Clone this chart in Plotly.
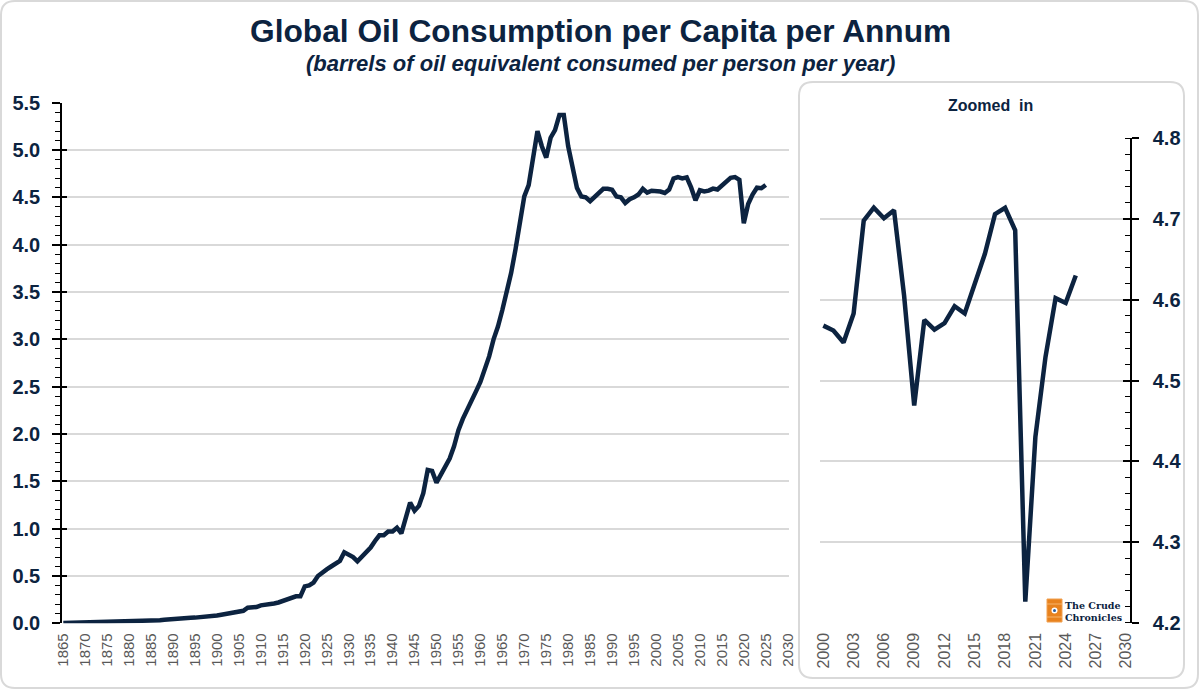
import plotly.graph_objects as go

# ---------------- data ----------------
years = list(range(1865, 2026))
consumption = [
    0.003, 0.004, 0.004, 0.005, 0.006, 0.007, 0.008, 0.009, 0.010, 0.011,   # 1865-1874
    0.012, 0.013, 0.015, 0.017, 0.019, 0.021, 0.022, 0.023, 0.024, 0.025,   # 1875-1884
    0.026, 0.030, 0.033, 0.038, 0.043, 0.047, 0.050, 0.053, 0.056, 0.058,   # 1885-1894
    0.060, 0.063, 0.067, 0.072, 0.077, 0.082, 0.090, 0.098, 0.107, 0.116,   # 1895-1904
    0.125, 0.132, 0.165, 0.170, 0.172, 0.190, 0.195, 0.195, 0.210, 0.220,   # 1905-1914
    0.235, 0.250, 0.270, 0.285, 0.285, 0.390, 0.400, 0.430, 0.500, 0.540,   # 1915-1924
    0.570, 0.600, 0.630, 0.660, 0.750, 0.730, 0.700, 0.655, 0.700, 0.745,   # 1925-1934
    0.800, 0.870, 0.930, 0.930, 0.970, 0.970, 1.010, 0.950, 1.110, 1.275,   # 1935-1944
    1.190, 1.240, 1.375, 1.620, 1.610, 1.486, 1.570, 1.650, 1.740, 1.870,   # 1945-1954
    2.040, 2.160, 2.250, 2.340, 2.450, 2.550, 2.680, 2.820, 3.000, 3.135,   # 1955-1964
    3.310, 3.490, 3.700, 3.950, 4.230, 4.510, 4.630, 4.900, 5.200, 5.040,   # 1965-1974
    4.920, 5.130, 5.210, 5.370, 5.370, 5.040, 4.790, 4.600, 4.510, 4.500,   # 1975-1984
    4.460, 4.500, 4.540, 4.590, 4.590, 4.580, 4.510, 4.500, 4.440, 4.480,   # 1985-1994
    4.500, 4.530, 4.590, 4.550, 4.570,                                      # 1995-1999
    4.568, 4.562, 4.547, 4.583, 4.698, 4.714, 4.701, 4.711, 4.605, 4.469,   # 2000-2009
    4.575, 4.563, 4.571, 4.592, 4.583, 4.622, 4.657, 4.706, 4.714, 4.686,   # 2010-2019
    4.226, 4.430, 4.529, 4.602, 4.596, 4.630,                               # 2020-2025
]
zoom_start_year = 2000
main_xticks = list(range(1865, 2031, 5))
zoom_xticks = list(range(2000, 2031, 3))

title_text = "Global Oil Consumption per Capita per Annum"
subtitle_text = "(barrels of oil equivalent consumed per person per year)"
zoom_title = "Zoomed  in"

# ---------------- style ----------------
W, H = 1200, 690
NAVY = "#0c2340"
GRID = "#d9d9d9"
GRAYTXT = "#595959"
FONT = "Liberation Sans, Arial, sans-serif"

def px_x(p):
    return p / W

def px_y(p):
    return 1 - p / H

zi = years.index(zoom_start_year)
MAIN_YDOM = [px_y(623.3), px_y(102.7)]
ZOOM_YDOM = [px_y(622.7), px_y(138.3)]
MAIN_YRANGE = [0, 5.5]
ZOOM_YRANGE = [4.2, 4.8]

fig = go.Figure()
fig.add_trace(go.Scatter(x=years, y=consumption, mode="lines",
                         line=dict(color=NAVY, width=4.5), xaxis="x", yaxis="y",
                         showlegend=False, hoverinfo="x+y"))
fig.add_trace(go.Scatter(x=years[zi:], y=consumption[zi:], mode="lines",
                         line=dict(color=NAVY, width=4.5), xaxis="x2", yaxis="y2",
                         showlegend=False, hoverinfo="x+y"))
# empty traces so the cross-tick overlay axes are drawn
fig.add_trace(go.Scatter(x=[], y=[], xaxis="x", yaxis="y3", showlegend=False, hoverinfo="skip"))
fig.add_trace(go.Scatter(x=[], y=[], xaxis="x2", yaxis="y4", showlegend=False, hoverinfo="skip"))

def rounded_rect(x0, y0, x1, y1, r):
    X = lambda v: f"{px_x(v):.5f}"
    Y = lambda v: f"{px_y(v):.5f}"
    return (f"M {X(x0 + r)},{Y(y0)} L {X(x1 - r)},{Y(y0)} "
            f"Q {X(x1)},{Y(y0)} {X(x1)},{Y(y0 + r)} "
            f"L {X(x1)},{Y(y1 - r)} Q {X(x1)},{Y(y1)} {X(x1 - r)},{Y(y1)} "
            f"L {X(x0 + r)},{Y(y1)} Q {X(x0)},{Y(y1)} {X(x0)},{Y(y1 - r)} "
            f"L {X(x0)},{Y(y0 + r)} Q {X(x0)},{Y(y0)} {X(x0 + r)},{Y(y0)} Z")

shapes = [
    dict(type="path", xref="paper", yref="paper", path=rounded_rect(1, 1, 1198, 688, 14),
         line=dict(color=GRID, width=2), fillcolor="rgba(0,0,0,0)", layer="below"),
    dict(type="path", xref="paper", yref="paper", path=rounded_rect(799, 82, 1184, 678, 14),
         line=dict(color=GRID, width=2), fillcolor="rgba(0,0,0,0)", layer="below"),
    # logo barrel icon
    dict(type="rect", xref="paper", yref="paper", x0=px_x(1047), x1=px_x(1062),
         y0=px_y(622), y1=px_y(599), fillcolor="#e8821e", line=dict(color="#f0a050", width=1)),
    dict(type="line", xref="paper", yref="paper", x0=px_x(1047), x1=px_x(1062),
         y0=px_y(604), y1=px_y(604), line=dict(color="#f6b36b", width=1)),
    dict(type="line", xref="paper", yref="paper", x0=px_x(1047), x1=px_x(1062),
         y0=px_y(617), y1=px_y(617), line=dict(color="#f6b36b", width=1)),
    dict(type="circle", xref="paper", yref="paper", x0=px_x(1051.5), x1=px_x(1057.5),
         y0=px_y(613.5), y1=px_y(607.5), fillcolor="white", line=dict(width=0)),
    dict(type="circle", xref="paper", yref="paper", x0=px_x(1053), x1=px_x(1056),
         y0=px_y(612), y1=px_y(609), fillcolor="#2a5d9f", line=dict(width=0)),
]

annotations = [
    dict(text=f"<b>{title_text}</b>", x=0.5, y=px_y(31), xref="paper", yref="paper",
         showarrow=False, font=dict(family=FONT, size=31.7, color=NAVY), xanchor="center", yanchor="middle"),
    dict(text=f"<b><i>{subtitle_text}</i></b>", x=0.5, y=px_y(63), xref="paper", yref="paper",
         showarrow=False, font=dict(family=FONT, size=22, color=NAVY), xanchor="center", yanchor="middle"),
    dict(text=f"<b>{zoom_title}</b>", x=px_x(990), y=px_y(105), xref="paper", yref="paper",
         showarrow=False, font=dict(family=FONT, size=16, color=NAVY), xanchor="center", yanchor="middle"),
    dict(text="<b>The Crude<br>Chronicles</b>", x=px_x(1063), y=px_y(611), xref="paper", yref="paper",
         showarrow=False, align="left", xanchor="left", yanchor="middle",
         font=dict(family="DejaVu Serif, serif", size=9.5, color=NAVY)),
]

fig.update_layout(
    template="none",
    width=W, height=H,
    margin=dict(l=0, r=0, t=0, b=0, pad=0, autoexpand=False),
    paper_bgcolor="white", plot_bgcolor="white",
    font=dict(family=FONT, color=NAVY),
    shapes=shapes, annotations=annotations,
    hovermode="closest",
    xaxis=dict(domain=[px_x(62), px_x(789)], range=[1864.7, 2030.3], anchor="y",
               automargin=False,
               tickmode="array", tickvals=main_xticks, tickangle=-90,
               tickfont=dict(family=FONT, size=15, color=GRAYTXT),
               showgrid=False, zeroline=False, showline=False, ticks="", ticklabelstandoff=6),
    yaxis=dict(domain=MAIN_YDOM, range=MAIN_YRANGE, anchor="x",
               automargin=False,
               tickmode="linear", tick0=0, dtick=0.5, tickformat=".1f",
               tickfont=dict(family=FONT, size=20, color=NAVY, weight="bold"),
               showgrid=True, gridcolor=GRID, gridwidth=1.5, zeroline=False,
               showline=True, linecolor="black", linewidth=1.5,
               ticks="outside", ticklen=8, tickcolor="black", tickwidth=1.5,
               ticklabelstandoff=8,
               minor=dict(dtick=0.1, ticks="outside", ticklen=5, tickcolor="black",
                          tickwidth=1.2, showgrid=False)),
    yaxis3=dict(domain=MAIN_YDOM, range=MAIN_YRANGE, anchor="x", overlaying="y",
                automargin=False, tickmode="linear", tick0=0, dtick=0.5,
                showticklabels=False, showgrid=False, zeroline=False, showline=False,
                ticks="inside", ticklen=5, tickcolor="black", tickwidth=1.5),
    xaxis2=dict(domain=[px_x(820), px_x(1130)], range=[1999.67, 2030.37], anchor="y2",
                automargin=False,
                tickmode="array", tickvals=zoom_xticks, tickangle=-90,
                tickfont=dict(family=FONT, size=16, color=GRAYTXT),
                showgrid=False, zeroline=False, showline=False, ticks="", ticklabelstandoff=6),
    yaxis2=dict(domain=ZOOM_YDOM, range=ZOOM_YRANGE, anchor="x2", side="right",
                automargin=False,
                tickmode="linear", tick0=4.2, dtick=0.1, tickformat=".1f",
                tickfont=dict(family=FONT, size=20, color=NAVY, weight="bold"),
                showgrid=True, gridcolor=GRID, gridwidth=1.5, zeroline=False,
                showline=True, linecolor="black", linewidth=1.5,
                ticks="outside", ticklen=7, tickcolor="black", tickwidth=1.5,
                ticklabelstandoff=10,
                minor=dict(dtick=0.02, ticks="inside", ticklen=5, tickcolor="black",
                           tickwidth=1.2, showgrid=False)),
    yaxis4=dict(domain=ZOOM_YDOM, range=ZOOM_YRANGE, anchor="x2", side="right", overlaying="y2",
                automargin=False, tickmode="linear", tick0=4.2, dtick=0.1,
                showticklabels=False, showgrid=False, zeroline=False, showline=False,
                ticks="inside", ticklen=7, tickcolor="black", tickwidth=1.5),
)

fig.write_html("out.html", config={"displayModeBar": False},
               post_script="document.body.style.margin='0';")
